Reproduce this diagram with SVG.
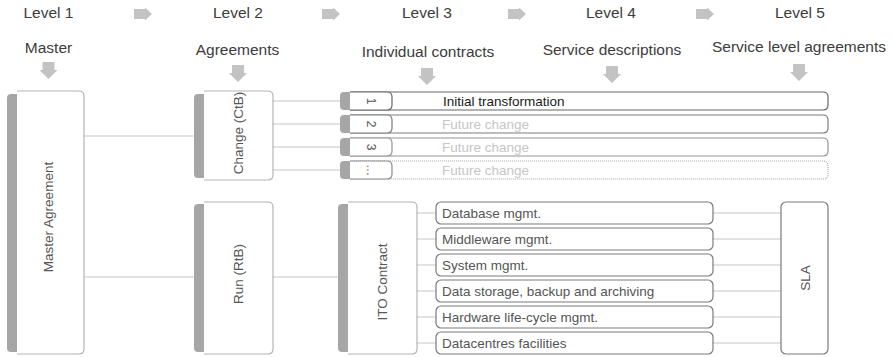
<svg xmlns="http://www.w3.org/2000/svg" width="893" height="357" viewBox="0 0 893 357">
  <style>
    text { font-family: "Liberation Sans", Arial, sans-serif; }
    .lvl { font-size: 15.5px; fill: #3c3c3c; text-anchor: middle; }
    .cap { font-size: 15.5px; fill: #3c3c3c; text-anchor: middle; }
    .arrow { fill: #c3c3c3; }
    .bar { fill: #a6a6a6; }
    .box { fill: #ffffff; stroke: #b4b4b4; stroke-width: 1.2; }
    .vlabel { font-size: 13.5px; fill: #555555; text-anchor: middle; dominant-baseline: central; }
    .conn { stroke: #d8d8d8; stroke-width: 1.5; fill: none; }
    .row { fill: #ffffff; stroke-width: 1.2; }
    .num { font-size: 12px; fill: #555555; text-anchor: middle; dominant-baseline: central; }
    .rowtext { font-size: 13.5px; }
    .desc { fill: #ffffff; stroke: #7a7a7a; stroke-width: 1.2; }
    .desctext { font-size: 13.5px; fill: #555555; }
  </style>

  <!-- level headings -->
  <g id="levels">
    <text class="lvl" x="48.5" y="18">Level 1</text>
    <text class="lvl" x="238" y="18">Level 2</text>
    <text class="lvl" x="427" y="18">Level 3</text>
    <text class="lvl" x="611" y="18">Level 4</text>
    <text class="lvl" x="800" y="18">Level 5</text>
    <path class="arrow" d="M134 9 H145 V7.5 L152 14 L145 20.5 V19 H134 Z"/>
    <path class="arrow" d="M322 9 H333 V7.5 L340 14 L333 20.5 V19 H322 Z"/>
    <path class="arrow" d="M508 9 H519 V7.5 L526 14 L519 20.5 V19 H508 Z"/>
    <path class="arrow" d="M696 9 H707 V7.5 L714 14 L707 20.5 V19 H696 Z"/>
  </g>

  <!-- column captions with down arrows -->
  <g id="captions">
    <text class="cap" x="48.5" y="53">Master</text>
    <text class="cap" x="237.5" y="55">Agreements</text>
    <text class="cap" x="428" y="57">Individual contracts</text>
    <text class="cap" x="612" y="55">Service descriptions</text>
    <text class="cap" x="799" y="52">Service level agreements</text>
    <path class="arrow" d="M42.5 62 H54.5 V70 H57.5 L48.5 79 L39.5 70 H42.5 Z"/>
    <path class="arrow" d="M232 65 H244 V73 H247 L238 82 L229 73 H232 Z"/>
    <path class="arrow" d="M421 68 H433 V76 H436 L427 85 L418 76 H421 Z"/>
    <path class="arrow" d="M606 66 H618 V74 H621 L612 83 L603 74 H606 Z"/>
    <path class="arrow" d="M793 64 H805 V72 H808 L799 81 L790 72 H793 Z"/>
  </g>

  <!-- connectors -->
  <g id="connectors">
    <path class="conn" d="M84 136 H194"/>
    <path class="conn" d="M84 277 H194"/>
    <path class="conn" d="M273 277 H338"/>
    <path class="conn" d="M273 101 H340"/>
    <path class="conn" d="M273 124 H340"/>
    <path class="conn" d="M273 147 H340"/>
    <path class="conn" d="M273 170 H340"/>
    <path class="conn" d="M417 213 H436"/>
    <path class="conn" d="M417 239 H436"/>
    <path class="conn" d="M417 265 H436"/>
    <path class="conn" d="M417 291 H436"/>
    <path class="conn" d="M417 317 H436"/>
    <path class="conn" d="M417 343 H436"/>
    <path class="conn" d="M713 213 H781"/>
    <path class="conn" d="M713 239 H781"/>
    <path class="conn" d="M713 265 H781"/>
    <path class="conn" d="M713 291 H781"/>
    <path class="conn" d="M713 317 H781"/>
    <path class="conn" d="M713 343 H781"/>
  </g>

  <!-- level 1 -->
  <g id="master-agreement">
    <path class="box" d="M17 91 H79 Q84 91 84 96 V349 Q84 354 79 354 H17"/>
    <path class="bar" d="M11 94 H17 V352 H11 Q7 352 7 348 V98 Q7 94 11 94 Z"/>
    <text class="vlabel" transform="translate(48 217) rotate(-90)">Master Agreement</text>
  </g>

  <!-- level 2 -->
  <g id="change-ctb">
    <path class="box" d="M204 91 H268 Q273 91 273 96 V175 Q273 180 268 180 H204"/>
    <path class="bar" d="M198 94 H204 V178 H198 Q194 178 194 174 V98 Q194 94 198 94 Z"/>
    <text class="vlabel" transform="translate(238 133) rotate(-90)">Change (CtB)</text>
  </g>
  <g id="run-rtb">
    <path class="box" d="M204 202 H268 Q273 202 273 207 V349 Q273 354 268 354 H204"/>
    <path class="bar" d="M198 204 H204 V352 H198 Q194 352 194 348 V208 Q194 204 198 204 Z"/>
    <text class="vlabel" transform="translate(238 274) rotate(-90)">Run (RtB)</text>
  </g>

  <!-- level 3: change contracts -->
  <g id="contract-1">
    <path class="row" stroke="#666666" d="M350 92 H823 Q828 92 828 97 V105 Q828 110 823 110 H350"/>
    <path class="row" fill="none" stroke="#666666" d="M350 92 H387 Q392 92 392 97 V105 Q392 110 387 110 H350"/>
    <path class="bar" d="M344 92 H350 V110 H344 Q340 110 340 106 V96 Q340 92 344 92 Z"/>
    <text class="num" transform="translate(371 101) rotate(90)">1</text>
    <text class="rowtext" x="443" y="106" fill="#1a1a1a">Initial transformation</text>
  </g>
  <g id="contract-2">
    <path class="row" stroke="#7c7c7c" d="M350 115 H823 Q828 115 828 120 V128 Q828 133 823 133 H350"/>
    <path class="row" fill="none" stroke="#7c7c7c" d="M350 115 H387 Q392 115 392 120 V128 Q392 133 387 133 H350"/>
    <path class="bar" d="M344 115 H350 V133 H344 Q340 133 340 129 V119 Q340 115 344 115 Z"/>
    <text class="num" transform="translate(371 124) rotate(90)">2</text>
    <text class="rowtext" x="442" y="129" fill="#c6c6c6">Future change</text>
  </g>
  <g id="contract-3">
    <path class="row" stroke="#939393" d="M350 138 H823 Q828 138 828 143 V151 Q828 156 823 156 H350"/>
    <path class="row" fill="none" stroke="#939393" d="M350 138 H387 Q392 138 392 143 V151 Q392 156 387 156 H350"/>
    <path class="bar" d="M344 138 H350 V156 H344 Q340 156 340 152 V142 Q340 138 344 138 Z"/>
    <text class="num" transform="translate(371 147) rotate(90)">3</text>
    <text class="rowtext" x="442" y="152" fill="#c6c6c6">Future change</text>
  </g>
  <g id="contract-more">
    <path class="row" stroke="#a8a8a8" stroke-dasharray="1 1" d="M350 161 H823 Q828 161 828 166 V174 Q828 179 823 179 H350"/>
    <path class="row" fill="none" stroke="#8a8a8a" d="M350 161 H387 Q392 161 392 166 V174 Q392 179 387 179 H350"/>
    <path class="bar" d="M344 161 H350 V179 H344 Q340 179 340 175 V165 Q340 161 344 161 Z"/>
    <text class="num" transform="translate(371 170) rotate(90)" fill="#999999">…</text>
    <text class="rowtext" x="442" y="175" fill="#c6c6c6">Future change</text>
  </g>

  <!-- level 3: run contract -->
  <g id="ito-contract">
    <path class="box" d="M348 202 H412 Q417 202 417 207 V349 Q417 354 412 354 H348"/>
    <path class="bar" d="M342 204 H348 V352 H342 Q338 352 338 348 V208 Q338 204 342 204 Z"/>
    <text class="vlabel" transform="translate(382 282) rotate(-90)">ITO Contract</text>
  </g>

  <!-- level 4: service descriptions -->
  <g id="svc-database">
    <rect class="desc" x="436" y="202" width="277" height="22" rx="5"/>
    <text class="desctext" x="442" y="218">Database mgmt.</text>
  </g>
  <g id="svc-middleware">
    <rect class="desc" x="436" y="228" width="277" height="22" rx="5"/>
    <text class="desctext" x="442" y="244">Middleware mgmt.</text>
  </g>
  <g id="svc-system">
    <rect class="desc" x="436" y="254" width="277" height="22" rx="5"/>
    <text class="desctext" x="442" y="270">System mgmt.</text>
  </g>
  <g id="svc-storage">
    <rect class="desc" x="436" y="280" width="277" height="22" rx="5"/>
    <text class="desctext" x="442" y="296">Data storage, backup and archiving</text>
  </g>
  <g id="svc-hardware">
    <rect class="desc" x="436" y="306" width="277" height="22" rx="5"/>
    <text class="desctext" x="442" y="322">Hardware life-cycle mgmt.</text>
  </g>
  <g id="svc-datacentres">
    <rect class="desc" x="436" y="332" width="277" height="22" rx="5"/>
    <text class="desctext" x="442" y="348">Datacentres facilities</text>
  </g>

  <!-- level 5 -->
  <g id="sla">
    <rect class="desc" x="781" y="202" width="47" height="152" rx="5"/>
    <text class="vlabel" transform="translate(805 278) rotate(-90)">SLA</text>
  </g>
</svg>
